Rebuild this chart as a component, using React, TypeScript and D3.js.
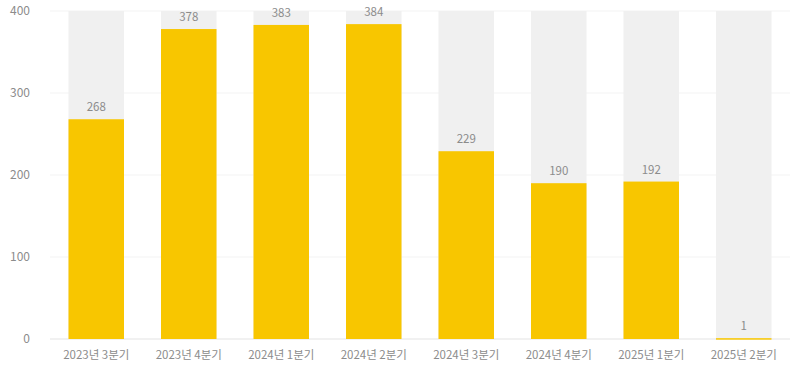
import React from "react";
import * as d3 from "d3";

const categories = ["2023년 3분기", "2023년 4분기", "2024년 1분기", "2024년 2분기", "2024년 3분기", "2024년 4분기", "2025년 1분기", "2025년 2분기"];
const values = [268, 378, 383, 384, 229, 190, 192, 1];
const yTicks = [0, 100, 200, 300, 400];

const W = 791, H = 368;
const margin = { left: 50, right: 1, top: 11, bottom: 29 };
const FONT = "'Noto Sans CJK KR', 'Noto Sans', sans-serif";

export default function App() {
  const x = d3.scaleBand().domain(categories).range([margin.left, W - margin.right]).paddingInner(0.4).paddingOuter(0.2);
  const y = d3.scaleLinear().domain([0, 400]).range([H - margin.bottom, margin.top]);
  const bw = x.bandwidth();
  return (
    <svg width={W} height={H} style={{ position: "absolute", left: 0, top: 0, background: "#fff" }}>
      {yTicks.map((t) => (
        <g key={t}>
          <line x1={margin.left} x2={W - margin.right} y1={y(t)} y2={y(t)} stroke={t === 0 ? "#e3e3e3" : "#f3f3f3"} strokeWidth={1} />
          <text x={30} y={y(t)} dy="0.35em" textAnchor="end" fontFamily={FONT} fontSize={12} fill="#8c8c8c">{t}</text>
        </g>
      ))}
      {categories.map((c, i) => {
        const x0 = x(c)!;
        const v = values[i];
        return (
          <g key={c}>
            <rect x={x0} y={y(400)} width={bw} height={y(0) - y(400)} fill="#f0f0f0" />
            <rect x={x0} y={y(v)} width={bw} height={Math.max(1.5, y(0) - y(v))} fill="#f8c600" />
            <text x={x0 + bw / 2} y={y(v) - 8} textAnchor="middle" fontFamily={FONT} fontSize={11.5} fill="#8c8c8c">{v}</text>
            <text x={x0 + bw / 2} y={H - 9} textAnchor="middle" fontFamily={FONT} fontSize={11.5} fill="#8c8c8c">{c}</text>
          </g>
        );
      })}
    </svg>
  );
}
